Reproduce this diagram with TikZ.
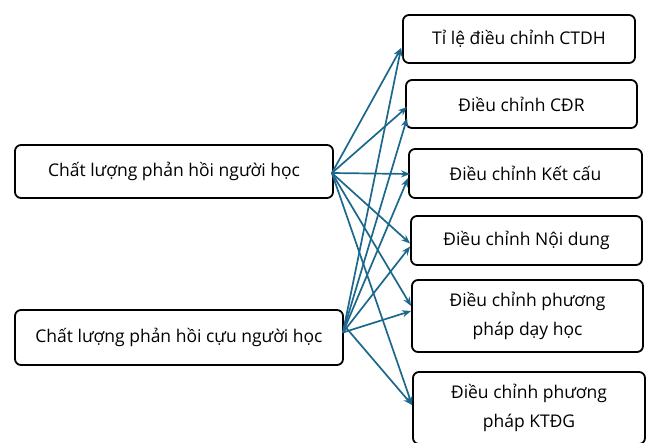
\documentclass[tikz,border=0pt]{standalone}
\usepackage{fontspec}
\setmainfont{Open Sans}
\usetikzlibrary{arrows.meta}
\definecolor{arrowblue}{RGB}{28,104,140}
\tikzset{
  box/.style={draw=black, line width=1.8pt, rounded corners=6pt, align=center, inner sep=0pt, font=\fontsize{17.5}{29}\selectfont},
  link/.style={draw=arrowblue, line width=1.7pt, -{Stealth[length=9pt,width=7pt]}}
}
\begin{document}
\begin{tikzpicture}[x=1pt,y=-1pt]
\useasboundingbox (0,0) rectangle (647,442);
% left nodes
\node[box, minimum width=318pt, minimum height=53pt] (l1) at (174,171.5) {\raisebox{3pt}{Chất lượng phản hồi người học}};
\node[box, minimum width=328pt, minimum height=55pt] (l2) at (179,337.5) {\raisebox{3pt}{Chất lượng phản hồi cựu người học}};
% right nodes
\node[box, minimum width=232pt, minimum height=48pt] (r1) at (519,39) {Tỉ lệ điều chỉnh CTDH};
\node[box, minimum width=231pt, minimum height=48pt] (r2) at (521.5,104) {Điều chỉnh CĐR};
\node[box, minimum width=233pt, minimum height=49pt] (r3) at (525.5,173.5) {Điều chỉnh Kết cấu};
\node[box, minimum width=231pt, minimum height=49pt] (r4) at (526.5,240.5) {Điều chỉnh Nội dung};
\node[box, minimum width=231pt, minimum height=72pt] (r5) at (527.5,316) {Điều chỉnh phương\\pháp dạy học};
\node[box, minimum width=232pt, minimum height=72pt] (r6) at (529,408) {Điều chỉnh phương\\pháp KTĐG};
% source points
\coordinate (s1) at ([xshift=-2pt,yshift=-1.5pt]l1.east);
\coordinate (s2) at ([xshift=-1pt,yshift=5pt]l2.east);
% arrows from l1
\draw[link] (s1) -- ([xshift=-1pt,yshift=-9pt]r1.west);
\draw[link] (s1) -- ([xshift=2pt,yshift=-3pt]r2.west);
\draw[link] (s1) -- ([xshift=2pt,yshift=-0.5pt]r3.west);
\draw[link] (s1) -- ([yshift=-3pt]r4.west);
\draw[link] (s1) -- ([yshift=10pt]r5.west);
\draw[link] (s1) -- ([yshift=3pt]r6.west);
% arrows from l2
\draw[link] (s2) -- ([xshift=-1pt,yshift=-9pt]r1.west);
\draw[link] (s2) -- ([xshift=2pt,yshift=-14pt]r2.west);
\draw[link] (s2) -- ([yshift=-4.5pt]r3.west);
\draw[link] (s2) -- ([yshift=-6pt]r4.west);
\draw[link] (s2) -- ([yshift=5pt]r5.west);
\draw[link] ([xshift=3pt,yshift=5pt]s2) -- ([yshift=3pt]r6.west);
\end{tikzpicture}
\end{document}
